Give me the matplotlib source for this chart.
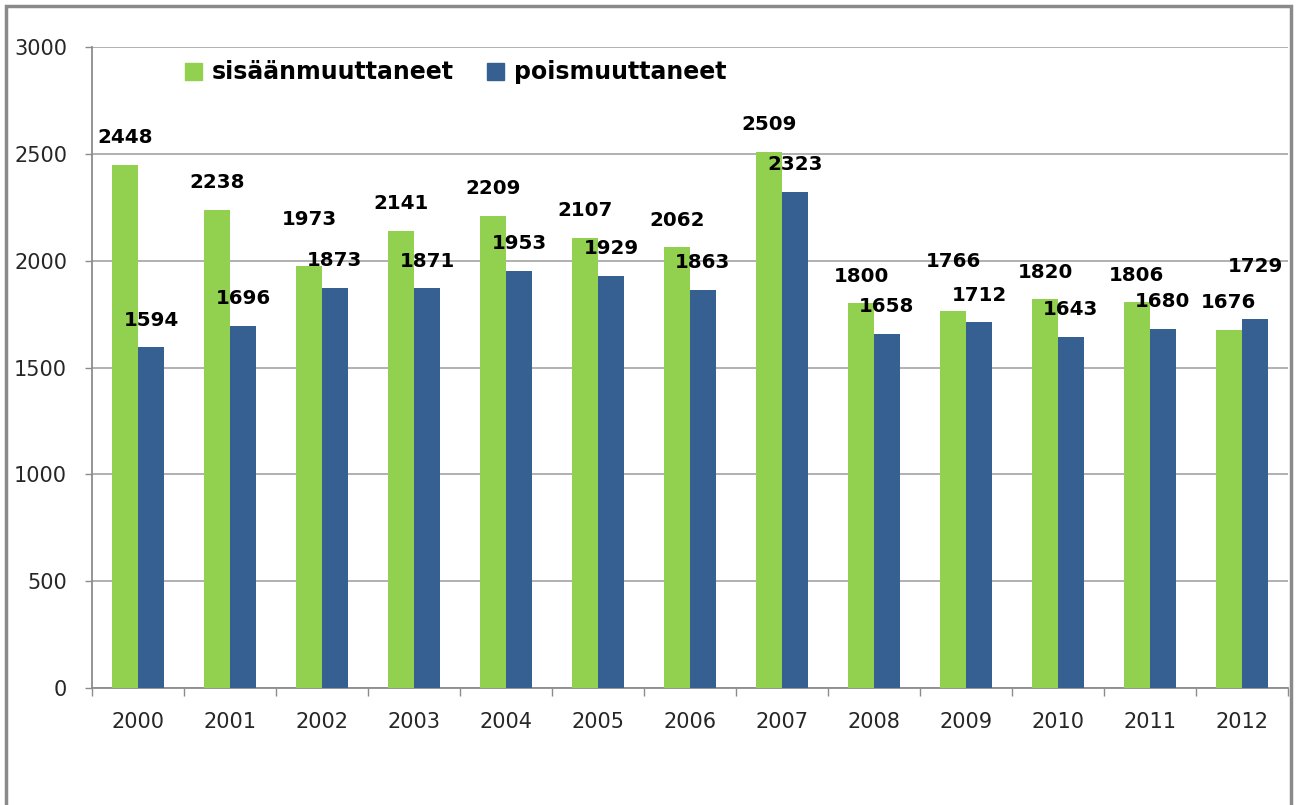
import matplotlib.pyplot as plt
from matplotlib.patches import Rectangle, Patch
import numpy as np

years = ['2000', '2001', '2002', '2003', '2004', '2005', '2006',
         '2007', '2008', '2009', '2010', '2011', '2012']
sisaan = [2448, 2238, 1973, 2141, 2209, 2107, 2062, 2509, 1800, 1766, 1820, 1806, 1676]
poism = [1594, 1696, 1873, 1871, 1953, 1929, 1863, 2323, 1658, 1712, 1643, 1680, 1729]

green = '#92D050'
blue = '#376092'
gray = '#8C8C8C'

# extra lift (points) for labels Excel pushed up to avoid overlap
lift_green = {2: 14, 9: 16}
lift_blue = {12: 18}

fig = plt.figure(figsize=(12.96, 8.05), dpi=100)
ax = fig.add_axes([0.0710, 0.1453, 0.9228, 0.7963])

x = np.arange(len(years))
w = 0.282
ax.bar(x - w / 2, sisaan, w, color=green, zorder=3)
ax.bar(x + w / 2, poism, w, color=blue, zorder=3)

lab = dict(fontsize=14.3, fontweight='bold', ha='center', va='center',
           textcoords='offset points', zorder=4, color='black')
for i in range(len(years)):
    ax.annotate(str(sisaan[i]), (x[i] - w / 2, sisaan[i]),
                xytext=(0, 19.5 + lift_green.get(i, 0)), **lab)
    ax.annotate(str(poism[i]), (x[i] + w / 2, poism[i]),
                xytext=(0, 19.5 + lift_blue.get(i, 0)), **lab)

ax.set_xlim(-0.5, len(years) - 0.5)
ax.set_ylim(0, 3000)
ax.set_yticks(np.arange(0, 3001, 500))
ax.yaxis.grid(True, color='#AAAAAA', lw=1.3, zorder=0)
ax.tick_params(axis='y', length=5, width=1, color=gray, labelsize=15, pad=13,
               labelcolor='#262626')

ax.set_xticks(np.arange(-0.5, len(years), 1))
ax.set_xticklabels([])
ax.set_xticks(x, minor=True)
ax.set_xticklabels(years, minor=True)
ax.tick_params(axis='x', which='major', length=6, width=1, color=gray)
ax.tick_params(axis='x', which='minor', length=0, labelsize=15, pad=17,
               labelcolor='#262626')

for s in ['top', 'right']:
    ax.spines[s].set_visible(False)
for s in ['left', 'bottom']:
    ax.spines[s].set_color(gray)
    ax.spines[s].set_linewidth(1.3)

handles = [Patch(color=green, label='sisäänmuuttaneet'),
           Patch(color=blue, label='poismuuttaneet')]
fig.legend(handles=handles, ncol=2, frameon=False, loc='center left',
           bbox_to_anchor=(0.126, 0.910), prop=dict(size=17, weight='bold'),
           handlelength=0.75, handleheight=0.75, handletextpad=0.4,
           columnspacing=1.4)

fig.patches.append(Rectangle((0.0045, -0.05), 0.9915, 1.0425, transform=fig.transFigure,
                             fill=False, edgecolor='#8A8A8A', lw=2.5))

fig.savefig('out.png', dpi=100)
